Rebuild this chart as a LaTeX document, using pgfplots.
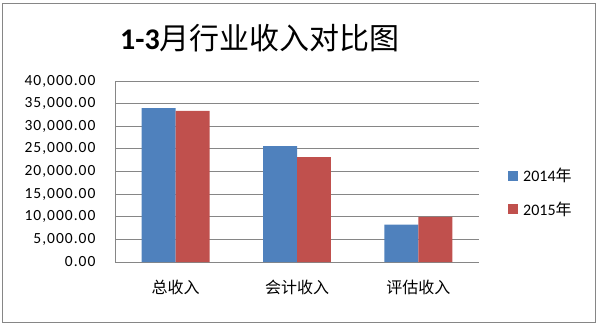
\documentclass[border=0pt]{standalone}
\usepackage{pgfplots}
\pgfplotsset{compat=1.18}
\usepackage{fontspec}
\setmainfont{Carlito}
\newfontfamily\cjk{Noto Sans CJK SC}
\newfontfamily\tickfont[LetterSpace=6.5]{Carlito}
\definecolor{cblue}{RGB}{79,129,189}
\definecolor{cred}{RGB}{192,80,77}
\definecolor{cgrid}{RGB}{134,134,134}
\begin{document}
\begin{tikzpicture}[x=1pt,y=1pt]
\useasboundingbox (0,0) rectangle (599,327);
\draw[cgrid, line width=0.9pt] (2.5,4.5) rectangle (595.5,324);
\node[inner sep=0] at (260,288.5) {\fontsize{30}{36}\selectfont\textbf{1-3}{\cjk 月行业收入对比图}};
\begin{axis}[
  at={(115pt,65pt)}, anchor=south west,
  width=364pt, height=181pt, scale only axis,
  xmin=-0.5, xmax=2.5, ymin=0, ymax=40000,
  xtick={0,1,2}, xticklabels={总收入,会计收入,评估收入},
  ytick={0,5000,...,40000},
  scaled y ticks=false,
  major tick length=0,
  axis x line*=bottom, axis y line*=left,
  axis line style={cgrid, line width=0.9pt, -},
  ymajorgrids, grid style={cgrid, line width=0.9pt},
  yticklabel style={font=\tickfont\fontsize{15.5}{18}\selectfont, xshift=-16pt,
    /pgf/number format/.cd, fixed, fixed zerofill, precision=2, 1000 sep={,}, assume math mode=true},
  xticklabel style={font=\cjk\fontsize{16}{19}\selectfont, yshift=-15pt},
  legend image code/.code={\fill[#1] (0pt,-5pt) rectangle (10pt,5pt);},
  legend style={at={(1.0797,0.384)}, anchor=west, draw=none, fill=none, inner sep=0pt,
    font=\fontsize{16}{19}\selectfont, row sep=14pt, cells={anchor=west},
    /tikz/every odd column/.append style={column sep=3pt}},
]
\addplot[ybar, bar width=0.28, bar shift=-0.14, fill=cblue, draw=none] coordinates {(0,34000) (1,25600) (2,8250)};
\addplot[ybar, bar width=0.28, bar shift=0.14, fill=cred, draw=none] coordinates {(0,33400) (1,23200) (2,9950)};
\legend{2014{\cjk 年}, 2015{\cjk 年}}
\end{axis}
\end{tikzpicture}
\end{document}
